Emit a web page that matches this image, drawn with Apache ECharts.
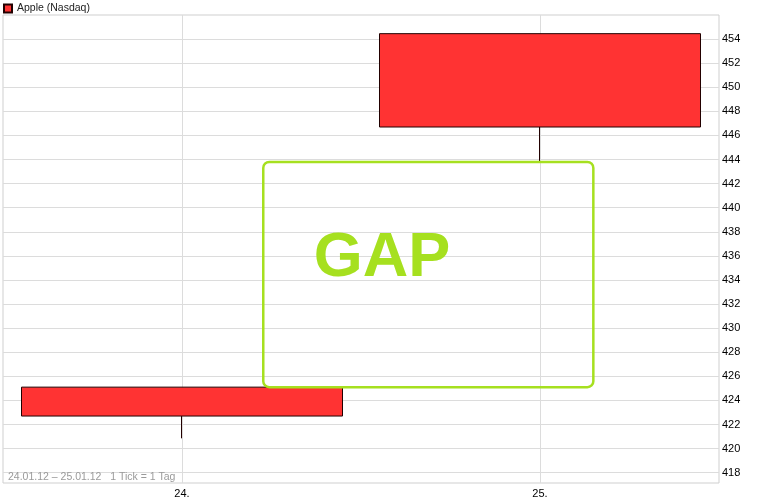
<!DOCTYPE html>
<html>
<head>
<meta charset="utf-8">
<script src="https://cdn.jsdelivr.net/npm/echarts@6/dist/echarts.min.js"></script>
<style>
html,body{margin:0;padding:0;background:#fff;}
#c{width:769px;height:502px;}
</style>
</head>
<body>
<div id="c"></div>
<script>
// ---- data ----
const categories = ['24.', '25.'];
// [open, close, low, high]
const candle24 = [425.1, 422.7, 420.85, 425.1];
const candle25 = [454.45, 446.7, 443.8, 454.45];
const yTicks = [418, 420, 422, 424, 426, 428, 430, 432, 434, 436, 438, 440, 442, 444, 446, 448, 450, 452, 454];
const yRange = [417.14, 456];
const seriesName = 'Apple (Nasdaq)';
const footnote = '24.01.12 \u2013 25.01.12   1 Tick = 1 Tag';
const gapLabel = 'GAP';
// gap annotation: horizontal extent in category units (0.5 = centre of first day)
const gapXRange = [0.727, 1.649];
const gapLabelX = 1.059;
const gapLabelY = 435.8;

const FONT = '"Liberation Sans", Arial, sans-serif';
const GREEN = '#a6e01f';

const chart = echarts.init(document.getElementById('c'), null, {renderer: 'canvas'});

chart.setOption({
  animation: false,
  backgroundColor: '#fff',
  textStyle: {fontFamily: FONT},
  legend: {
    left: 3, top: 3, padding: 0,
    icon: 'rect', itemWidth: 8, itemHeight: 8, itemGap: 10,
    textStyle: {fontSize: 10.5, color: '#222', fontFamily: FONT},
    data: [seriesName]
  },
  grid: {
    left: 3, right: 50, top: 15, bottom: 19,
    show: true, borderColor: '#cfcfcf', borderWidth: 1, backgroundColor: '#fff'
  },
  xAxis: [{
    type: 'category',
    data: categories,
    boundaryGap: true,
    axisLine: {show: false},
    axisTick: {show: false},
    splitLine: {show: false},
    axisLabel: {fontSize: 11, color: '#000', margin: 5, fontFamily: FONT}
  }, {
    type: 'value',
    min: 0, max: 2,
    position: 'top',
    axisLine: {show: false},
    axisLabel: {show: false},
    axisTick: {show: false, customValues: categories.map((c, i) => i + 0.5)},
    splitLine: {show: true, lineStyle: {color: '#dcdcdc', width: 1}}
  }],
  yAxis: {
    type: 'value',
    position: 'right',
    min: yRange[0], max: yRange[1],
    scale: true,
    axisLine: {show: false},
    axisTick: {show: false, customValues: yTicks},
    axisLabel: {customValues: yTicks, fontSize: 11, color: '#000', margin: 3, fontFamily: FONT},
    splitLine: {show: true, lineStyle: {color: '#dcdcdc', width: 1}}
  },
  series: [{
    name: seriesName,
    type: 'candlestick',
    xAxisIndex: 0,
    yAxisIndex: 0,
    barWidth: '90%',
    z: 3,
    itemStyle: {
      color: '#ff3333', color0: '#ff3333',
      borderColor: '#220000', borderColor0: '#220000',
      borderWidth: 1
    },
    data: [candle24, candle25]
  }]
});

function drawAnnotations() {
  const p1 = chart.convertToPixel({xAxisIndex: 1, yAxisIndex: 0}, [gapXRange[0], candle25[2]]);
  const p2 = chart.convertToPixel({xAxisIndex: 1, yAxisIndex: 0}, [gapXRange[1], candle24[3]]);
  const pt = chart.convertToPixel({xAxisIndex: 1, yAxisIndex: 0}, [gapLabelX, gapLabelY]);
  const gridRect = chart.getModel().getComponent('grid', 0).coordinateSystem.getRect();
  chart.setOption({
    graphic: [{
      type: 'rect',
      shape: {x: p1[0], y: p1[1], width: p2[0] - p1[0], height: p2[1] - p1[1], r: 6},
      style: {fill: 'none', stroke: GREEN, lineWidth: 2.5},
      z: 10, silent: true
    }, {
      type: 'text',
      x: pt[0], y: pt[1],
      style: {
        text: gapLabel, fill: GREEN,
        font: 'bold 63px ' + FONT,
        textAlign: 'center', textVerticalAlign: 'middle'
      },
      z: 11, silent: true
    }, {
      type: 'text',
      x: gridRect.x + 5, y: gridRect.y + gridRect.height - 6,
      style: {
        text: footnote, fill: '#9a9a9a',
        font: '10.5px ' + FONT,
        textAlign: 'left', textVerticalAlign: 'middle'
      },
      z: 11, silent: true
    }]
  });
}
drawAnnotations();
</script>
</body>
</html>
